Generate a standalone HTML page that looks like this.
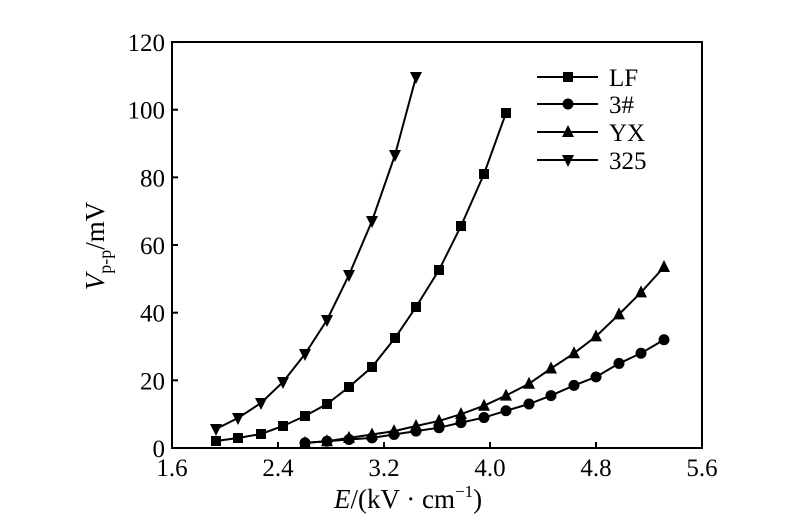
<!DOCTYPE html>
<html><head><meta charset="utf-8"><style>
body{margin:0;background:#fff;}
svg text{font-family:"Liberation Serif",serif;fill:#000;}
</style></head><body>
<svg id="s" width="800" height="522" xmlns="http://www.w3.org/2000/svg">
<rect x="172" y="42" width="530" height="406" fill="none" stroke="#000" stroke-width="2"/>
<g id="ticks" stroke="#000" stroke-width="2"></g>
<g font-size="25" text-anchor="end" id="yl"></g>
<g font-size="25" text-anchor="middle" id="xl"></g>
<text x="334" y="508" font-size="27"><tspan font-style="italic">E</tspan>/(kV · cm<tspan font-size="17" dy="-11">−1</tspan><tspan dy="11">)</tspan></text>
<text transform="translate(104,246) rotate(-90)" font-size="27" text-anchor="middle"><tspan font-style="italic">V</tspan><tspan font-size="18" dy="7">p-p</tspan><tspan dy="-7">/mV</tspan></text>
<g id="series"></g>
<g font-size="25" id="leg"></g>
</svg>
<script>
var ns="http://www.w3.org/2000/svg";
function el(p,t,a,txt){var e=document.createElementNS(ns,t);for(var k in a)e.setAttribute(k,a[k]);if(txt!=null)e.textContent=txt;document.getElementById(p).appendChild(e);return e;}
function X(v){return 172+(v-1.6)*132.5;}function Y(v){return 448-v*3.383;}
for(var i=0;i<=6;i++){var y=Y(i*20);el("ticks","line",{x1:172,x2:178,y1:y,y2:y});el("yl","text",{x:165,y:y+9},String(i*20));}
["1.6","2.4","3.2","4.0","4.8","5.6"].forEach(function(s,i){var x=X(1.6+0.8*i);el("ticks","line",{x1:x,x2:x,y1:448,y2:442});el("xl","text",{x:x,y:476},s);});
function mk(g,type,x,y){
 if(type=="sq")el(g,"rect",{x:x-5,y:y-5,width:10,height:10});
 else if(type=="ci")el(g,"circle",{cx:x,cy:y,r:5.5});
 else if(type=="up")el(g,"polygon",{points:(x-6)+","+(y+5)+" "+(x+6)+","+(y+5)+" "+x+","+(y-7)});
 else el(g,"polygon",{points:(x-6)+","+(y-5)+" "+(x+6)+","+(y-5)+" "+x+","+(y+7)});
}
var xs=[216,238,261,283,305,327,349,372,395,416,439,461,484,506];
var s325=[[216,429],[238,418],[261,403],[283,382],[305,354],[327,320],[349,275],[372,221],[395,155],[416,77]];
var lf=xs.map(function(x,i){return [x,[441,438,434,426,416,404,387,367,338,307,270,226,174,113][i]];});
var x2=[305,327,349,372,394,416,439,461,484,506,529,551,574,596,619,641,664];
var c3=[1.5,2,2.5,3,4,5,6,7.5,9,11,13,15.5,18.5,21,25,28,32].map(function(v,i){return [x2[i],Y(v)];});
var yx=[1.5,2,3,4,5,6.5,8,10,12.5,15.5,19,23.5,28,33,39.5,46,53.5].map(function(v,i){return [x2[i],Y(v)];});
function ser(pts,t){var g=el("series","g",{});g.id="g"+t;
 el("g"+t,"polyline",{points:pts.map(function(p){return p.join(",")}).join(" "),fill:"none",stroke:"#000","stroke-width":2});
 pts.forEach(function(p){mk("g"+t,t,p[0],p[1]);});}
ser(c3,"ci");ser(yx,"up");ser(lf,"sq");ser(s325,"dn");
[["sq","LF",77],["ci","3#",104],["up","YX",132],["dn","325",160]].forEach(function(a){
 el("leg","line",{x1:537,x2:598,y1:a[2],y2:a[2],stroke:"#000","stroke-width":2});
 var g=el("leg","g",{});g.id="l"+a[0];mk("l"+a[0],a[0],568,a[2]);
 el("leg","text",{x:609,y:a[2]+9},a[1]);
});
</script>
</body></html>
